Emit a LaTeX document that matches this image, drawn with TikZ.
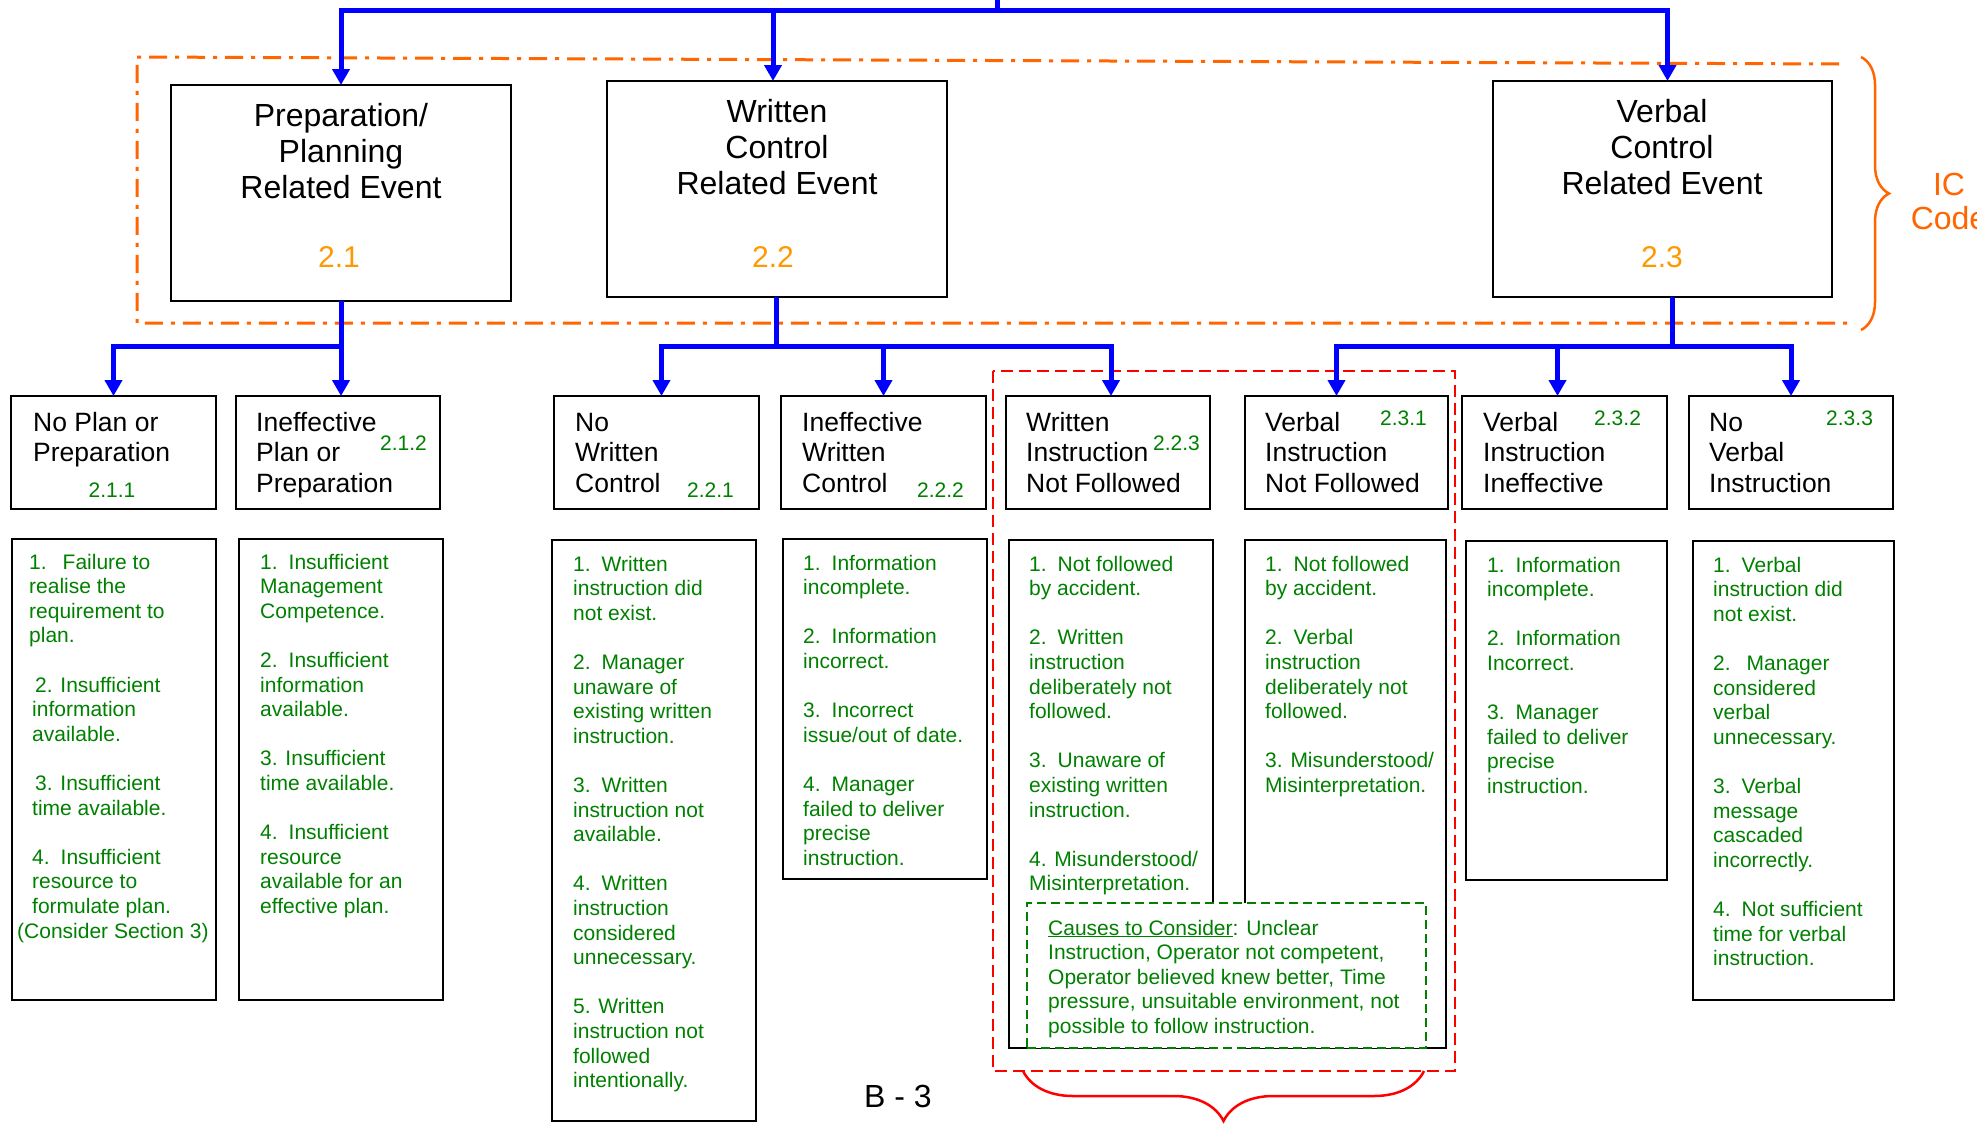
\documentclass[tikz,border=0pt]{standalone}
\usepackage{fontspec}
\setmainfont{Liberation Sans}
\usetikzlibrary{arrows.meta,decorations.pathreplacing}
\definecolor{cgreen}{RGB}{0,128,0}
\definecolor{corange}{RGB}{255,153,0}
\definecolor{cdash}{RGB}{255,102,0}
\definecolor{cblue}{RGB}{0,0,255}
\definecolor{cred}{RGB}{255,0,0}
\newcommand\bx[5]{\node[boxst, minimum width={#4-#2}, minimum height={#5-#3}] (#1) at ({(#2+#4)/2},{(#3+#5)/2}) {};}
\newcommand\ttl[4]{\node[anchor=base, inner sep=0pt] (#1) at (#2,#3) {\parbox[t]{330pt}{\centering\fontsize{32}{36}\selectfont #4}};}
\newcommand\lvt[4]{\node[anchor=base west, inner sep=0pt] (#1) at (#2,#3) {\parbox[t]{200pt}{\raggedright\fontsize{26.5}{30.5}\selectfont #4}};}
\newcommand\lst[4]{\node[anchor=base west, inner sep=0pt, text=cgreen] (#1) at (#2,#3) {\parbox[t]{380pt}{\raggedright\fontsize{21}{24.6}\selectfont #4}};}
\newcommand\nx{\\[24.6pt]}
\begin{document}
\begin{tikzpicture}[x=1pt,y=-1pt,
  boxst/.style={draw=black, line width=1.8pt, inner sep=0pt, outer sep=0pt},
  conn/.style={draw=cblue, line width=5pt},
  arr/.style={conn, -{Triangle[length=16pt,width=17pt]}},
  num/.style={text=cgreen, font=\fontsize{21}{24}\selectfont, inner sep=0pt, anchor=base west},
  bignum/.style={text=corange, font=\fontsize{30}{32}\selectfont, inner sep=0pt, anchor=base},
  dashdot/.style={draw=cdash, line width=3pt, dash pattern=on 18pt off 8pt on 4pt off 8pt},
  greenbox/.style={draw=cgreen, fill=white, line width=2pt, dash pattern=on 9pt off 5pt, inner sep=0pt, outer sep=0pt}]
\useasboundingbox (0,0) rectangle (1977,1127);
\fill[white] (0,0) rectangle (1977,1127);

% orange IC code frame and brace
\draw[dashdot] (1839,64) -- (137,57) -- (137,323) -- (1848,323);
\draw[draw=cdash, line width=2.5pt, decorate, decoration={brace, amplitude=28pt}] (1861,57) -- (1861,330);
\node[anchor=base, inner sep=0pt, text=cdash] (ic) at (1949,195) {\parbox[t]{120pt}{\centering\fontsize{32}{34}\selectfont IC\\Code}};

% red dashed frame and brace
\draw[draw=cred, line width=2.5pt, dash pattern=on 12pt off 6pt] (993,371) rectangle (1455,1071);
\draw[draw=cred, line width=2.5pt, decorate, decoration={brace, amplitude=50pt}] (1424,1071) -- (1023,1071);

% top level boxes
\bx{prep}{171}{85}{511}{301}
\bx{written}{607}{81}{947}{297}
\bx{verbal}{1493}{81}{1832}{297}
\ttl{tprep}{341}{126}{Preparation/\\Planning\\Related Event}
\ttl{twritten}{777}{122}{Written\\Control\\Related Event}
\ttl{tverbal}{1662}{122}{Verbal\\Control\\Related Event}
\node[bignum] (n21) at (339,267) {2.1};
\node[bignum] (n22) at (773,267) {2.2};
\node[bignum] (n23) at (1662,267) {2.3};

% second level boxes
\bx{b211}{11}{396}{216}{509}
\bx{b212}{236}{396}{440}{509}
\bx{b221}{554}{396}{759}{509}
\bx{b222}{781}{396}{986}{509}
\bx{b223}{1006}{396}{1210}{509}
\bx{b231}{1245}{396}{1448}{509}
\bx{b232}{1462}{396}{1667}{509}
\bx{b233}{1689}{396}{1893}{509}
\lvt{x211}{33}{431}{No Plan or\\Preparation}
\lvt{x212}{256}{431}{Ineffective\\Plan or\\Preparation}
\lvt{x221}{575}{431}{No\\Written\\Control}
\lvt{x222}{802}{431}{Ineffective\\Written\\Control}
\lvt{x223}{1026}{431}{Written\\Instruction\\Not Followed}
\lvt{x231}{1265}{431}{Verbal\\Instruction\\Not Followed}
\lvt{x232}{1483}{431}{Verbal\\Instruction\\Ineffective}
\lvt{x233}{1709}{431}{No\\Verbal\\Instruction}
\node[num, anchor=base] (n211) at (112,497) {2.1.1};
\node[num] (n212) at (380,450) {2.1.2};
\node[num] (n221) at (687,497) {2.2.1};
\node[num] (n222) at (917,497) {2.2.2};
\node[num] (n223) at (1153,450) {2.2.3};
\node[num] (n231) at (1380,425) {2.3.1};
\node[num] (n232) at (1594,425) {2.3.2};
\node[num] (n233) at (1826,425) {2.3.3};

% third level boxes
\bx{l211}{12}{539}{216}{1000}
\bx{l212}{239}{539}{443}{1000}
\bx{l221}{552}{540}{756}{1121}
\bx{l222}{783}{539}{987}{879}
\bx{l223}{1009}{540}{1213}{1048}
\bx{l231}{1245}{540}{1446}{1048}
\bx{l232}{1466}{541}{1667}{880}
\bx{l233}{1693}{541}{1894}{1000}

\lst{c211}{29}{569}{1.\hspace{16pt}Failure to\\realise the\\requirement to\\plan.\nx
\hspace*{6pt}2. Insufficient\\\hspace*{3pt}information\\\hspace*{3pt}available.\nx
\hspace*{6pt}3. Insufficient\\\hspace*{3pt}time available.\nx
\hspace*{3pt}4.\hspace{11pt}Insufficient\\\hspace*{3pt}resource to\\\hspace*{3pt}formulate plan.\\\hspace*{-12pt}(Consider Section 3)}

\lst{c212}{260}{569}{1.\hspace{11pt}Insufficient\\Management\\Competence.\nx
2.\hspace{11pt}Insufficient\\information\\available.\nx
3. Insufficient\\time available.\nx
4.\hspace{11pt}Insufficient\\resource\\available for an\\effective plan.}

\lst{c221}{573}{571}{1.\hspace{11pt}Written\\instruction did\\not exist.\nx
2.\hspace{11pt}Manager\\unaware of\\existing written\\instruction.\nx
3.\hspace{11pt}Written\\instruction not\\available.\nx
4.\hspace{11pt}Written\\instruction\\considered\\unnecessary.\nx
5. Written\\instruction not\\followed\\intentionally.}

\lst{c222}{803}{570}{1.\hspace{11pt}Information\\incomplete.\nx
2.\hspace{11pt}Information\\incorrect.\nx
3.\hspace{11pt}Incorrect\\issue/out of date.\nx
4.\hspace{11pt}Manager\\failed to deliver\\precise\\instruction.}

\lst{c223}{1029}{571}{1.\hspace{11pt}Not followed\\by accident.\nx
2.\hspace{11pt}Written\\instruction\\deliberately not\\followed.\nx
3.\hspace{11pt}Unaware of\\existing written\\instruction.\nx
4. Misunderstood/\\Misinterpretation.}

\lst{c231}{1265}{571}{1.\hspace{11pt}Not followed\\by accident.\nx
2.\hspace{11pt}Verbal\\instruction\\deliberately not\\followed.\nx
3. Misunderstood/\\Misinterpretation.}

\lst{c232}{1487}{572}{1.\hspace{11pt}Information\\incomplete.\nx
2.\hspace{11pt}Information\\Incorrect.\nx
3.\hspace{11pt}Manager\\failed to deliver\\precise\\instruction.}

\lst{c233}{1713}{572}{1.\hspace{11pt}Verbal\\instruction did\\not exist.\nx
2.\hspace{16pt}Manager\\considered\\verbal\\unnecessary.\nx
3.\hspace{11pt}Verbal\\message\\cascaded\\incorrectly.\nx
4.\hspace{11pt}Not sufficient\\time for verbal\\instruction.}

% causes to consider box
\node[greenbox, minimum width=399pt, minimum height=145pt] (causes) at (1226.5,975.5) {};
\lst{ccause}{1048}{935}{\underline{Causes to Consider}: Unclear\\Instruction, Operator not competent,\\Operator believed knew better, Time\\pressure, unsuitable environment, not\\possible to follow instruction.}

\node[anchor=base, inner sep=0pt, font=\fontsize{32}{36}\selectfont] (page) at (898,1107) {B - 3};

% blue connectors
\coordinate (root) at (997,-6);
\coordinate (ht) at (997,10);
\coordinate (wn) at ([xshift=-4pt]written.north);
\coordinate (vn) at ([xshift=5pt]verbal.north);
\draw[conn] (root) -- (ht);
\draw[arr] (ht) -| (prep.north);
\draw[arr] (ht) -| (vn);
\draw[arr] (ht -| wn) -- (wn);

\coordinate (hp) at (341,346);
\draw[conn] (prep.south) -- (hp);
\draw[arr] (hp) -| (b211.north);
\draw[arr] (hp) -- (hp |- b212.north);

\coordinate (hw) at (776,346);
\coordinate (t221) at ([xshift=5pt]b221.north);
\coordinate (t223) at ([xshift=3pt]b223.north);
\draw[conn] (written.south -| hw) -- (hw);
\draw[arr] (hw) -| (t221);
\draw[arr] (hw) -| (t223);
\draw[arr] (hw -| b222.north) -- (b222.north);

\coordinate (hv) at (1672,346);
\coordinate (t231) at ([xshift=-10pt]b231.north);
\coordinate (t232) at ([xshift=-7pt]b232.north);
\draw[conn] (verbal.south -| hv) -- (hv);
\draw[arr] (hv) -| (t231);
\draw[arr] (hv) -| (b233.north);
\draw[arr] (hv -| t232) -- (t232);
\end{tikzpicture}
\end{document}
